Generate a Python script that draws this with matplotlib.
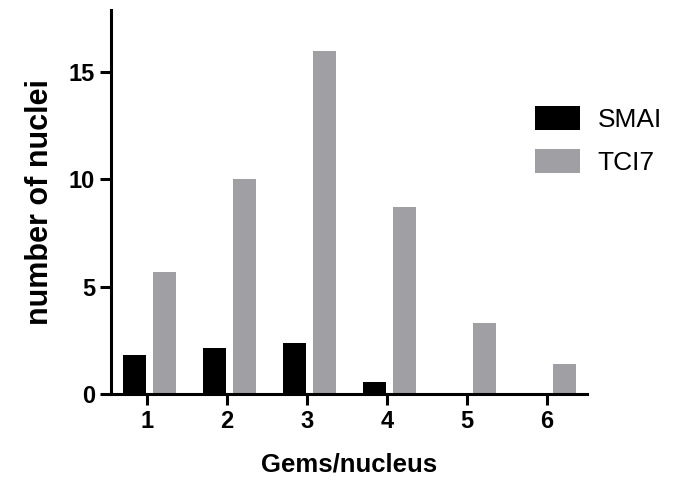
import numpy as np
import matplotlib.pyplot as plt

plt.rcParams['font.family'] = ['Liberation Sans', 'DejaVu Sans']

# values
gems = [1, 2, 3, 4, 5, 6]
smai = [1.82, 2.13, 2.40, 0.57, 0, 0]
tci7 = [5.67, 10.0, 15.97, 8.70, 3.30, 1.39]

fig = plt.figure(figsize=(6.78, 4.97), dpi=100)
ax = fig.add_axes([0.1637, 0.2072, 0.702, 0.7728])

x = np.array(gems)
w = 0.29
ax.bar(x - 0.16, smai, w, color='black', label='SMAI')
ax.bar(x + 0.22, tci7, w, color='#a0a0a4', label='TCI7')

ax.set_xlim(0.55, 6.5)
ax.set_ylim(0, 17.9)
ax.set_xticks(gems)
ax.set_yticks([0, 5, 10, 15])

for s in ['top', 'right']:
    ax.spines[s].set_visible(False)
for s in ['left', 'bottom']:
    ax.spines[s].set_linewidth(2.2)

ax.tick_params(width=2.2, length=8, labelsize=17)
for lab in ax.get_xticklabels() + ax.get_yticklabels():
    lab.set_fontweight('bold')

ax.set_xlabel('Gems/nucleus', fontsize=18.5, fontweight='bold', labelpad=14)
ax.set_ylabel('number of nuclei', fontsize=22, fontweight='bold', labelpad=10)

ax.legend(loc='upper left', bbox_to_anchor=(535 / 678, 1 - 106 / 497),
          bbox_transform=fig.transFigure, borderpad=0, borderaxespad=0,
          frameon=False, fontsize=19, handlelength=1.7, handleheight=1.02,
          handletextpad=0.68, labelspacing=0.64)

fig.savefig('out.png', dpi=100)
